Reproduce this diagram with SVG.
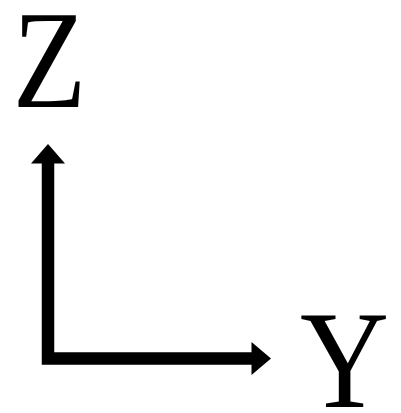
<svg xmlns="http://www.w3.org/2000/svg" width="401" height="413" viewBox="0 0 401 413">
<style>
.lbl{font-family:"Liberation Serif","Times New Roman",serif;font-size:140px;fill:#000;text-anchor:middle}
.axis{fill:none;stroke:#000;stroke-width:12.5;stroke-linejoin:miter;stroke-linecap:butt}
.head{fill:#000}
</style>
<rect width="401" height="413" fill="#fff"/>
<g id="connectors">
<polyline class="axis" points="48,163 48,358.5 252,358.5"/>
<polygon class="head" points="48,144 31,163.5 65,163.5"/>
<polygon class="head" points="271,358.5 251.5,342 251.5,375"/>
</g>
<g id="label-z"><text class="lbl" transform="translate(49.5,107) scale(0.86,1)" x="0" y="0">Z</text></g>
<g id="label-y"><text class="lbl" transform="translate(344.5,407) scale(0.88,1)" x="0" y="0">Y</text></g>
</svg>
